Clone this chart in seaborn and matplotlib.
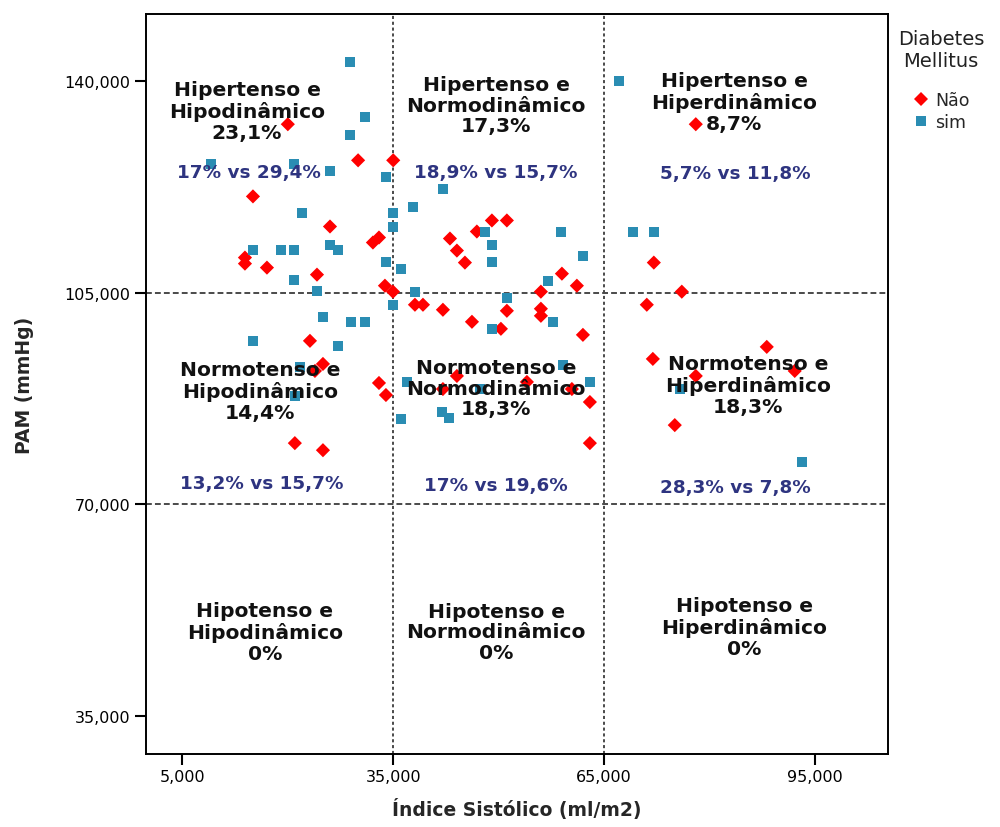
import matplotlib
matplotlib.use("Agg")
import matplotlib.pyplot as plt
import seaborn as sns
import pandas as pd
from matplotlib.ticker import FuncFormatter

# ---------------- data ----------------
nao_x = [20000, 30000, 35000, 15040, 26000, 32110, 32970, 13900, 13900, 17030,
         24150, 33820, 34960, 49040, 51170, 43070, 46900, 44060, 45200, 59000,
         61130, 56010, 78050, 72080, 76060, 38090, 39230, 42070, 46200, 51170,
         56010, 56010, 50320, 61990, 44060, 54020, 42070, 60420, 62980, 62980,
         23150, 25000, 23860, 32970, 33960, 21000, 25000, 71080, 88150, 71940,
         92130, 78050, 75060]
nao_y = [132870, 126900, 126900, 120930, 115950, 113300, 114130, 110810, 109810, 109150,
         107990, 106160, 105170, 116950, 116950, 113960, 115120, 111970, 109980, 108150,
         106160, 105170, 132870, 109980, 105170, 103010, 103010, 102180, 100190, 102010,
         102350, 101180, 99030, 98030, 91230, 90240, 89070, 89070, 86920, 80120,
         97040, 93220, 92060, 90070, 88080, 80120, 78950, 103010, 96040, 94050,
         92060, 91230, 83100]
sim_x = [28840, 30970, 28840, 9070, 20860, 26000, 33960, 22000, 34960, 34960,
         37800, 15040, 19030, 20870, 26000, 27130, 33960, 36100, 20870, 24150,
         38090, 67110, 42070, 48050, 58860, 69100, 72080, 49040, 49040, 61990,
         56960, 51170, 25000, 28980, 30970, 34960, 15040, 27130, 21720, 21000,
         36100, 36950, 57700, 49040, 59140, 62980, 47320, 41930, 42920, 75780,
         93140]
sim_y = [143160, 134030, 131050, 126240, 126240, 125070, 124080, 118110, 118110, 115950,
         119100, 112130, 112130, 112130, 112960, 112130, 110140, 108980, 107160, 105330,
         105170, 140000, 122090, 115120, 115120, 115120, 115120, 112960, 110140, 111140,
         106990, 104170, 101020, 100190, 100190, 103010, 97040, 96210, 92720, 87910,
         84100, 90240, 100190, 99030, 93060, 90240, 89070, 85260, 84260, 89070,
         76960]

groups = ["Não", "sim"]
x_ticks = [5000, 35000, 65000, 95000]
y_ticks = [35000, 70000, 105000, 140000]
x_cuts = [35000, 65000]
y_cuts = [105000, 70000]

quad_titles = [
    "Hipertenso e\nHipodinâmico\n23,1%", "Hipertenso e\nNormodinâmico\n17,3%", "Hipertenso e\nHiperdinâmico\n8,7%",
    "Normotenso e\nHipodinâmico\n14,4%", "Normotenso e\nNormodinâmico\n18,3%", "Normotenso e\nHiperdinâmico\n18,3%",
    "Hipotenso e\nHipodinâmico\n0%", "Hipotenso e\nNormodinâmico\n0%", "Hipotenso e\nHiperdinâmico\n0%",
]
quad_compare = ["17% vs 29,4%", "18,9% vs 15,7%", "5,7% vs 11,8%",
                "13,2% vs 15,7%", "17% vs 19,6%", "28,3% vs 7,8%"]

df = pd.DataFrame({
    "IS": nao_x + sim_x,
    "PAM": nao_y + sim_y,
    "DM": [groups[0]] * len(nao_x) + [groups[1]] * len(sim_x),
})

# ---------------- figure ----------------
sns.set_style("white")
plt.rcParams["font.family"] = ["DejaVu Sans"]

fig = plt.figure(figsize=(10, 8.28), dpi=100)
L, R, T, B = 145.5, 888, 15, 755
ax = fig.add_axes([L / 1000, 1 - B / 828, (R - L) / 1000, (B - T) / 828])

def px2ax(px, py):
    return (px - L) / (R - L), (B - py) / (B - T)

for xc in x_cuts:
    ax.axvline(xc, color="#4a4a4a", lw=1.4, ls=(0, (1.6, 1.4)), zorder=1)
for yc in y_cuts:
    ax.axhline(yc, color="#4a4a4a", lw=1.4, ls=(0, (3, 1.6)), zorder=1)

sns.scatterplot(data=df, x="IS", y="PAM", hue="DM", style="DM",
                hue_order=groups, style_order=groups,
                palette={"Não": "#ff0000", "sim": "#2a8db3"},
                markers={"Não": "D", "sim": "s"},
                s=52, linewidth=0, alpha=1, ax=ax, zorder=3)

ax.set_xlim(-250, 105400)
ax.set_ylim(28700, 151100)
ax.set_xticks(x_ticks)
ax.set_yticks(y_ticks)
fmt = FuncFormatter(lambda v, p: f"{int(v):,}")
ax.xaxis.set_major_formatter(fmt)
ax.yaxis.set_major_formatter(fmt)
ax.tick_params(axis="both", which="major", direction="out", length=8, width=1.5,
               labelsize=11.5, colors="black", bottom=True, left=True, pad=3)
for sp in ax.spines.values():
    sp.set_color("black")
    sp.set_linewidth(1.4)

ax.set_xlabel("Índice Sistólico (ml/m2)", fontsize=13.5, fontweight="bold", labelpad=10)
ax.set_ylabel("PAM (mmHg)", fontsize=13.5, fontweight="bold", labelpad=22)

# quadrant labels (pixel centres)
title_pos = [(247, 112), (496, 106), (734, 103),
             (260, 392), (496, 389), (748, 386),
             (265, 633), (496, 633), (744, 628)]
comp_pos = [(249, 173), (496, 173), (735, 174),
            (262, 484), (496, 486), (735, 488)]
for txt, (px, py) in zip(quad_titles, title_pos):
    fx, fy = px2ax(px, py)
    ax.text(fx, fy, txt, transform=ax.transAxes, ha="center", va="center",
            fontsize=14.6, fontweight="bold", color="#111111", linespacing=1.13, zorder=5)
for txt, (px, py) in zip(quad_compare, comp_pos):
    fx, fy = px2ax(px, py)
    ax.text(fx, fy, txt, transform=ax.transAxes, ha="center", va="center",
            fontsize=13.2, fontweight="bold", color="#2e3480", zorder=5)

lx, ly = px2ax(898, 30)
sns.move_legend(ax, "upper left", bbox_to_anchor=(lx, ly), title="Diabetes\nMellitus",
                frameon=False, fontsize=12.5, title_fontsize=14, handletextpad=0.3,
                labelspacing=0.25, handlelength=1.0, borderaxespad=0, borderpad=0,
                alignment="center")
leg = ax.get_legend()
leg.get_title().set_color("#222222")
leg.get_title().set_multialignment("center")
leg._legend_box.sep = 15

fig.savefig("out.png", dpi=100)
